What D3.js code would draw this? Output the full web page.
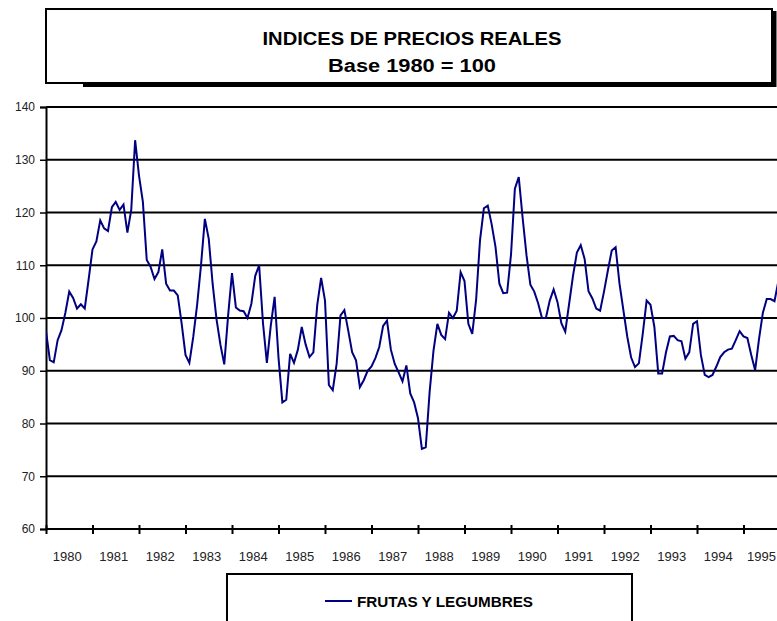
<!DOCTYPE html>
<html>
<head>
<meta charset="utf-8">
<script src="https://cdn.jsdelivr.net/npm/d3@7"></script>
<style>
  body { margin: 0; background: #fff; }
  svg { display: block; }
</style>
</head>
<body>
<div id="chart"></div>
<script>
// categories (year labels) and y ticks
const years = d3.range(1980, 1996);
const yTicks = [60, 70, 80, 90, 100, 110, 120, 130, 140];

// monthly index, Jan 1980 .. Oct 1995
const frutas = [
  97.5, 92, 91.6, 95.8, 97.7, 101, 105, 103.8, 101.8, 102.6, 101.8, 107.3,
  113, 114.5, 118.5, 117, 116.5, 121, 122, 120.5, 121.5, 116.2, 120.5, 133.7,
  127, 122, 111, 109.7, 107.4, 108.7, 113, 106.5, 105.2, 105.2, 104.3, 99,
  93, 91.5, 96.4, 102.5, 110, 118.8, 115, 106.5, 99.8, 95, 91.2, 100.5,
  108.5, 102, 101.4, 101.3, 100, 102.7, 108, 110, 99, 91.5, 98.5, 104,
  92.5, 84, 84.5, 93.2, 91.5, 94, 98.3, 95, 92.6, 93.5, 102.5, 107.6,
  103.3, 87.3, 86.3, 91.3, 100.5, 101.5, 97.6, 93.5, 92, 86.9, 88.2, 90,
  90.8, 92.4, 94.5, 98.5, 99.5, 94, 91.3, 89.7, 88, 91, 85.7, 84,
  81, 75.2, 75.5, 86, 93.8, 98.9, 96.8, 96, 101, 100, 101.4, 108.7,
  107, 98.9, 97, 103.5, 114.7, 120.8, 121.3, 117.8, 113.5, 106.5, 104.7, 104.8,
  112, 124.5, 126.7, 119, 111.9, 106.3, 105, 102.8, 100, 100, 103.3, 105.4,
  103, 99, 97.4, 102.7, 108, 112.4, 113.8, 111.2, 105.1, 103.7, 101.8, 101.4,
  105, 109, 112.8, 113.4, 106.5, 101.5, 96.5, 92.5, 90.7, 91.4, 97, 103.3,
  102.5, 98.3, 89.5, 89.5, 93.5, 96.5, 96.6, 95.8, 95.6, 92.3, 93.5, 98.9,
  99.4, 93, 89.2, 88.8, 89.2, 90.8, 92.6, 93.5, 94, 94.2, 95.8, 97.5,
  96.5, 96.2, 93, 90.1, 96, 101, 103.6, 103.6, 103.2, 107
];

const width = 777, height = 621;
const plot = { left: 46, top: 107, bottom: 529, right: 777 };
const yearW = 46.5;

const svg = d3.select("#chart").append("svg")
  .attr("width", width)
  .attr("height", height)
  .style("font-family", "'Liberation Sans', Arial, sans-serif");

// scales
const xm = d3.scaleLinear()
  .domain([0, years.length * 12])
  .range([plot.left, plot.left + years.length * yearW]);

const xb = d3.scaleBand()
  .domain(years)
  .range([plot.left, plot.left + years.length * yearW]);

const y = d3.scaleLinear()
  .domain([60, 140])
  .range([plot.bottom, plot.top]);

// title box with shadow
svg.append("line")
  .attr("x1", 83).attr("x2", 776)
  .attr("y1", 85).attr("y2", 85)
  .attr("stroke", "#000").attr("stroke-width", 4);
svg.append("line")
  .attr("x1", 774.5).attr("x2", 774.5)
  .attr("y1", 11).attr("y2", 87)
  .attr("stroke", "#000").attr("stroke-width", 4);
svg.append("rect")
  .attr("x", 46).attr("y", 9)
  .attr("width", 726).attr("height", 74)
  .attr("fill", "#fff").attr("stroke", "#000").attr("stroke-width", 2);

svg.append("text")
  .attr("x", 412).attr("y", 45)
  .attr("text-anchor", "middle")
  .attr("font-size", 18).attr("font-weight", "bold")
  .attr("textLength", 299).attr("lengthAdjust", "spacingAndGlyphs")
  .text("INDICES DE PRECIOS REALES");
svg.append("text")
  .attr("x", 412).attr("y", 72)
  .attr("text-anchor", "middle")
  .attr("font-size", 18).attr("font-weight", "bold")
  .attr("textLength", 168).attr("lengthAdjust", "spacingAndGlyphs")
  .text("Base 1980 = 100");

svg.append("clipPath").attr("id", "plotClip")
  .append("rect")
  .attr("x", plot.left).attr("y", 0)
  .attr("width", plot.right - plot.left).attr("height", height);

// gridlines
svg.append("g")
  .selectAll("line")
  .data(yTicks.filter((d) => d > 60))
  .join("line")
  .attr("x1", plot.left).attr("x2", plot.right)
  .attr("y1", (d) => y(d)).attr("y2", (d) => y(d))
  .attr("stroke", "#000").attr("stroke-width", 2);

// y axis
const gy = svg.append("g")
  .attr("transform", `translate(${plot.left},0)`)
  .call(d3.axisLeft(y).tickValues(yTicks).tickSize(6).tickPadding(5));
gy.select(".domain").attr("stroke-width", 2);
gy.selectAll(".tick line").attr("stroke-width", 1.5);
gy.selectAll("text")
  .attr("font-size", 12)
  .attr("fill", "#222")
  .style("font-family", "'Liberation Sans', Arial, sans-serif");

// x axis: cross ticks between years
const gx = svg.append("g")
  .attr("transform", `translate(0,${plot.bottom})`)
  .call(d3.axisBottom(xm)
    .tickValues(years.map((d, i) => i * 12))
    .tickSizeOuter(0)
    .tickFormat(""));
gx.select(".domain")
  .attr("d", `M${plot.left},0H${plot.right}`)
  .attr("stroke-width", 2);
gx.selectAll(".tick line")
  .attr("y1", -4).attr("y2", 5)
  .attr("stroke-width", 2);

// year labels, the last one kept inside the picture
svg.append("g")
  .selectAll("text")
  .data(years)
  .join("text")
  .attr("x", (d) => xb(d) + xb.bandwidth() / 2 - 2)
  .attr("y", 561)
  .attr("text-anchor", "middle")
  .attr("font-size", 13)
  .attr("fill", "#222")
  .text((d) => d)
  .each(function () {
    const w = this.getComputedTextLength();
    const cx = +this.getAttribute("x");
    if (cx + w / 2 > width - 1) this.setAttribute("x", width - 1 - w / 2);
  });

// series line
const line = d3.line()
  .x((d, i) => xm(i))
  .y((d) => y(d));

svg.append("path")
  .datum(frutas)
  .attr("clip-path", "url(#plotClip)")
  .attr("d", line)
  .attr("fill", "none")
  .attr("stroke", "#000080")
  .attr("stroke-width", 2)
  .attr("stroke-linejoin", "miter");

// legend
svg.append("rect")
  .attr("x", 227).attr("y", 574)
  .attr("width", 405).attr("height", 60)
  .attr("fill", "#fff").attr("stroke", "#000").attr("stroke-width", 2);
svg.append("line")
  .attr("x1", 325).attr("x2", 352)
  .attr("y1", 601).attr("y2", 601)
  .attr("stroke", "#000080").attr("stroke-width", 2);
svg.append("text")
  .attr("x", 357).attr("y", 607)
  .attr("font-size", 15).attr("font-weight", "bold")
  .attr("textLength", 176).attr("lengthAdjust", "spacingAndGlyphs")
  .text("FRUTAS Y LEGUMBRES");
</script>
</body>
</html>
